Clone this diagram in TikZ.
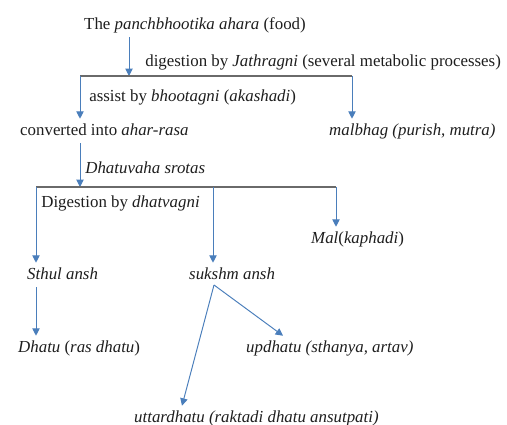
\documentclass[tikz,border=0pt]{standalone}
\usepackage{fontspec}
\setmainfont{Liberation Serif}
\usetikzlibrary{arrows.meta, positioning, calc}
\definecolor{flowblue}{HTML}{4A7EBB}
\definecolor{bargray}{HTML}{6A6A6A}
\definecolor{txtgray}{HTML}{1E1E1E}

\begin{document}
\begin{tikzpicture}[
  x=0.02cm, y=-0.02cm,
  every node/.style={font=\fontsize{9.6}{11}\selectfont, text=txtgray},
  term/.style={anchor=west, inner sep=2.2pt, text height=1.55ex, text depth=0.45ex},
  note/.style={anchor=west, inner sep=0pt},
  flow/.style={-{Triangle[length=4.2pt, width=4.2pt]}, flowblue, line width=0.55pt},
  bar/.style={bargray, line width=0.7pt},
]
\useasboundingbox (0,0) rectangle (507,425);

% Food and first split
\node[term] (food) at (80, 25) {The \textit{panchbhootika ahara} (food)};
\node[note] (jath) at (145, 62) {digestion by \textit{Jathragni} (several metabolic processes)};
\coordinate (top) at (129, 76);
\coordinate (barL) at (80, 76);
\coordinate (barR) at (352, 76);
\draw[flow] (food.south -| top) -- (top);
\draw[bar] (barL) -- (barR);

% Ahar-rasa and malbhag
\node[term] (rasa) at (16, 131) {converted into \textit{ahar-rasa}};
\node[term] (malb) at (325, 131) {\textit{malbhag (purish, mutra)}};
\node[note] (assist) at (89, 97) {assist by \textit{bhootagni} (\textit{akashadi})};
\draw[flow] (barL) -- (barL |- rasa.north);
\draw[flow] (barR) -- (barR |- malb.north);

% Second split
\node[note] (srotas) at (85, 168) {\textit{Dhatuvaha srotas}};
\node[note] (dhatv) at (41, 203) {Digestion by \textit{dhatvagni}};
\coordinate (mid) at (80, 187);
\coordinate (lowL) at (36, 187);
\coordinate (lowM) at (213, 187);
\coordinate (lowR) at (336, 187);
\draw[flow] (rasa.south -| mid) -- (mid);
\draw[bar] (lowL) -- (lowR);

% Ansh and mal
\node[term] (mal) at (307, 239) {\textit{Mal}(\textit{kaphadi})};
\node[term] (sthul) at (23, 275) {\textit{Sthul ansh}};
\node[term] (suksh) at (185, 275) {\textit{sukshm ansh}};
\draw[flow] (lowL) -- (lowL |- sthul.north);
\draw[flow] (lowM) -- (lowM |- suksh.north);
\draw[flow] (lowR) -- (lowR |- mal.north);

% Dhatu branches
\node[term] (dhatu) at (14, 348) {\textit{Dhatu} (\textit{ras dhatu})};
\node[term] (upd) at (242, 348) {\textit{updhatu (sthanya, artav)}};
\node[term] (utt) at (130, 418) {\textit{uttardhatu (raktadi dhatu ansutpati)}};
\coordinate (skBr) at (214, 285);
\draw[flow] (sthul.south -| lowL) -- (lowL |- dhatu.north);
\draw[flow] (skBr) -- (upd.north -| 283, 0);
\draw[flow] (skBr) -- (utt.north -| 182, 0);

\end{tikzpicture}
\end{document}
